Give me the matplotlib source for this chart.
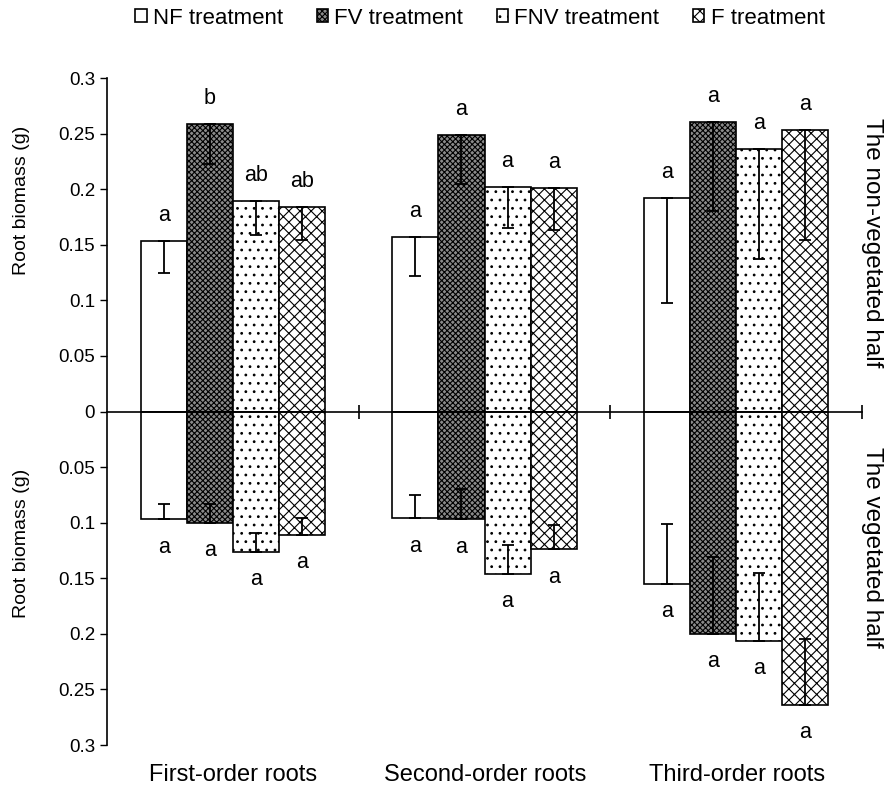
import numpy as np
import matplotlib
matplotlib.use("Agg")
import matplotlib.pyplot as plt

plt.rcParams['font.family'] = ['Liberation Sans', 'DejaVu Sans']
plt.rcParams['hatch.linewidth'] = 0.8

# grupos y tratamientos
groups = ["First-order roots", "Second-order roots", "Third-order roots"]
treatments = ["NF treatment", "FV treatment", "FNV treatment", "F treatment"]

# mitad no vegetada (arriba)
upper = [[0.153, 0.157, 0.192],
         [0.259, 0.249, 0.260],
         [0.189, 0.202, 0.236],
         [0.184, 0.201, 0.253]]
upper_err = [[0.028, 0.035, 0.094],
             [0.036, 0.044, 0.080],
             [0.030, 0.037, 0.099],
             [0.030, 0.038, 0.099]]
upper_letters = [["a", "a", "a"],
                 ["b", "a", "a"],
                 ["ab", "a", "a"],
                 ["ab", "a", "a"]]

# mitad vegetada (abajo)
lower = [[0.097, 0.096, 0.155],
         [0.100, 0.097, 0.200],
         [0.126, 0.146, 0.206],
         [0.111, 0.124, 0.264]]
lower_err = [[0.014, 0.021, 0.054],
             [0.017, 0.027, 0.069],
             [0.017, 0.026, 0.061],
             [0.015, 0.022, 0.059]]
lower_letters = [["a", "a", "a"],
                 ["a", "a", "a"],
                 ["a", "a", "a"],
                 ["a", "a", "a"]]

faces = ["white", "#8a8a8a", "white", "white"]
hatches = [None, "xxxxxx", "..", "xxx"]

fig = plt.figure(figsize=(8.84, 7.89), dpi=100)
ax = fig.add_axes([107/884, 1-745/789, (862-107)/884, (745-78)/789])

x = np.arange(len(groups)) + 0.5
w = 0.183
handles = []
for i in range(len(treatments)):
    pos = x + (i - 1.5) * w
    up = np.array(upper[i])
    lo = -np.array(lower[i])
    b = ax.bar(pos, up, w, color=faces[i], edgecolor="black", hatch=hatches[i],
               linewidth=1.2, label=treatments[i])
    ax.bar(pos, lo, w, color=faces[i], edgecolor="black", hatch=hatches[i],
           linewidth=1.2)
    handles.append(b)
    # barras de error hacia el interior de la barra
    ax.errorbar(pos, up, yerr=[upper_err[i], [0]*3], fmt="none", ecolor="black",
                elinewidth=1.3, capsize=4, capthick=1.3)
    ax.errorbar(pos, lo, yerr=[[0]*3, lower_err[i]], fmt="none", ecolor="black",
                elinewidth=1.3, capsize=4, capthick=1.3)
    for j in range(len(groups)):
        ax.text(pos[j], up[j] + 0.023, upper_letters[i][j], ha="center", va="center", fontsize=15.5)
        ax.text(pos[j], lo[j] - 0.025, lower_letters[i][j], ha="center", va="center", fontsize=15.5)

ax.set_xlim(0, 3)
ax.set_ylim(-0.3, 0.3)
yt = np.arange(-0.3, 0.301, 0.05)
ax.set_yticks(yt)
ax.set_yticklabels(["{:g}".format(abs(round(v, 2))) for v in yt], fontsize=13.5)
ax.tick_params(axis="y", direction="out", length=5, width=1)

ax.spines["top"].set_visible(False)
ax.spines["right"].set_visible(False)
ax.spines["bottom"].set_position(("data", 0))
ax.spines["bottom"].set_linewidth(1.2)
ax.spines["left"].set_linewidth(1.2)
ax.set_xticks([1, 2, 3])
ax.set_xticklabels([])
ax.tick_params(axis="x", direction="inout", length=10, width=1.2)

for j, g in enumerate(groups):
    fig.text((107 + 252 * (j + 0.5)) / 884, 1 - 775/789, g, ha="center", va="center", fontsize=17)

fig.text(22/884, 1 - 200/789, "Root biomass (g)", rotation=90, ha="center", va="center", fontsize=14)
fig.text(22/884, 1 - 543/789, "Root biomass (g)", rotation=90, ha="center", va="center", fontsize=14)
fig.text(872/884, 1 - 243/789, "The non-vegetated half", rotation=-90, ha="center", va="center", fontsize=17.5)
fig.text(872/884, 1 - 547/789, "The vegetated half", rotation=-90, ha="center", va="center", fontsize=17.5)

fig.legend(handles=handles, loc="center", bbox_to_anchor=(480/884, 1 - 18/789), ncol=4,
           frameon=False, fontsize=16, handlelength=0.5, handleheight=0.5,
           handletextpad=0.3, columnspacing=1.5)

fig.savefig("out.png", dpi=100)
